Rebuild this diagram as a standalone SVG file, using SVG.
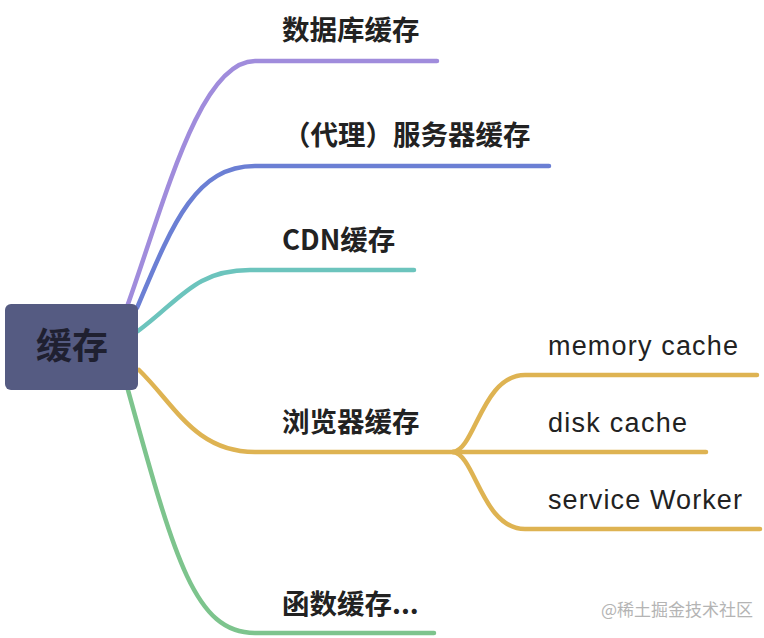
<svg xmlns="http://www.w3.org/2000/svg" width="764" height="638" viewBox="0 0 764 638">
  <style>
    .ln { fill: none; stroke-width: 4.5; stroke-linecap: round; stroke-linejoin: round; }
    .l1 { font-family: "Noto Sans CJK SC", "Liberation Sans", sans-serif; font-size: 27.5px; font-weight: bold; fill: #222222; }
    .l2 { font-family: "Liberation Sans", "Noto Sans", sans-serif; font-size: 27px; fill: #222222; }
    .root { font-family: "Noto Sans CJK SC", sans-serif; font-size: 36px; font-weight: bold; fill: #1f2030; }
    .wm { font-family: "Noto Sans CJK SC", sans-serif; font-size: 17px; fill: #b4b4b4; }
  </style>
  <rect width="764" height="638" fill="#ffffff"/>
  <g id="connectors">
    <path class="ln" stroke="#a08cdc" d="M128,304 C165,200 200,61 255,61 H437"/>
    <path class="ln" stroke="#6b7fd4" d="M137,308 C172,225 195,166 255,166 H549"/>
    <path class="ln" stroke="#6cc4bd" d="M138,331 C180,300 195,270 250,270 H414"/>
    <path class="ln" stroke="#deb352" d="M139,370 C175,405 195,452 255,452 H453"/>
    <path class="ln" stroke="#deb352" d="M453,452 C475,450 482,375 525,375 H757"/>
    <path class="ln" stroke="#deb352" d="M453,452 H706"/>
    <path class="ln" stroke="#deb352" d="M453,452 C475,454 482,529 525,529 H760"/>
    <path class="ln" stroke="#7dc48d" d="M128,390 C175,560 195,633 255,633 H434"/>
  </g>
  <g id="root">
    <rect x="5" y="304" width="133" height="86" rx="6" fill="#555b82"/>
    <text class="root" x="72" y="359" text-anchor="middle">缓存</text>
  </g>
  <g id="node-db"><text class="l1" x="282" y="40">数据库缓存</text></g>
  <g id="node-server"><text class="l1" x="283" y="145">（代理）服务器缓存</text></g>
  <g id="node-cdn"><text class="l1" x="282" y="250">CDN缓存</text></g>
  <g id="node-browser"><text class="l1" x="282" y="432">浏览器缓存</text></g>
  <g id="node-memory"><text class="l2" x="548" y="355" textLength="190" lengthAdjust="spacing">memory cache</text></g>
  <g id="node-disk"><text class="l2" x="548" y="432" textLength="139" lengthAdjust="spacing">disk cache</text></g>
  <g id="node-sw"><text class="l2" x="548" y="509" textLength="194" lengthAdjust="spacing">service Worker</text></g>
  <g id="node-func"><text class="l1" x="282" y="614">函数缓存...</text></g>
  <text class="wm" x="601" y="616">@稀土掘金技术社区</text>
</svg>
